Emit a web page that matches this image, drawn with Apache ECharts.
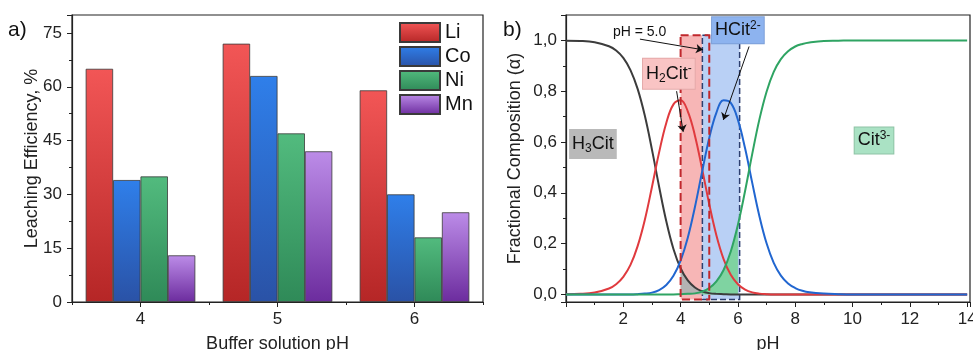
<!DOCTYPE html>
<html><head><meta charset="utf-8">
<script src="https://cdn.jsdelivr.net/npm/echarts@6/dist/echarts.min.js"></script>
<style>html,body{margin:0;padding:0;background:#fff}#c{width:973px;height:350px}</style>
</head><body><div id="c"></div>
<script>
// ---- panel a) data ----
const bufferPH = ['4', '5', '6'];
const li = [65, 72, 59];
const co = [34, 63, 30];
const ni = [35, 47, 18];
const mn = [13, 42, 25];
const leachTicks = [0, 15, 30, 45, 60, 75];

// ---- panel b) data (read from the speciation curves) ----
const pH    = [0, 0.5, 1, 1.5, 1.75, 2, 2.25, 2.5, 2.75, 3, 3.25, 3.5, 3.75, 4, 4.25, 4.5, 4.75, 5, 5.25, 5.5, 5.75, 6, 6.25, 6.5, 6.75, 7, 7.25, 7.5, 7.75, 8, 8.25, 8.5, 9, 9.5, 10, 11, 12, 13, 14];
const h3cit = [0.999, 0.998, 0.993, 0.977, 0.960, 0.931, 0.883, 0.809, 0.704, 0.570, 0.424, 0.288, 0.179, 0.103, 0.055, 0.027, 0.012, 0.005, 0.002, 0.001, 0, 0, 0, 0, 0, 0, 0, 0, 0, 0, 0, 0, 0, 0, 0, 0, 0, 0, 0];
const h2cit = [0.001, 0.002, 0.007, 0.023, 0.040, 0.069, 0.116, 0.190, 0.293, 0.423, 0.559, 0.675, 0.748, 0.764, 0.721, 0.625, 0.494, 0.355, 0.232, 0.139, 0.077, 0.040, 0.019, 0.008, 0.003, 0.001, 0, 0, 0, 0, 0, 0, 0, 0, 0, 0, 0, 0, 0];
const hcit  = [0, 0, 0, 0, 0, 0, 0, 0.001, 0.003, 0.007, 0.017, 0.037, 0.073, 0.133, 0.223, 0.344, 0.483, 0.616, 0.716, 0.764, 0.754, 0.687, 0.575, 0.439, 0.308, 0.201, 0.124, 0.074, 0.043, 0.025, 0.014, 0.008, 0.003, 0.001, 0, 0, 0, 0, 0];
const cit   = [0, 0, 0, 0, 0, 0, 0, 0, 0, 0, 0, 0, 0, 0.001, 0.002, 0.004, 0.011, 0.025, 0.051, 0.096, 0.169, 0.274, 0.407, 0.553, 0.689, 0.798, 0.876, 0.926, 0.957, 0.976, 0.986, 0.992, 0.998, 0.999, 1, 1, 1, 1, 1];
const pHTicks = [2, 4, 6, 8, 10, 12, 14];
const fracTicks = [0, 0.2, 0.4, 0.6, 0.8, 1.0];
const fracTickLabels = ['0,0', '0,2', '0,4', '0,6', '0,8', '1,0'];

const FONT = "'Liberation Sans', Arial, Helvetica, sans-serif";
const AX = '#222';

function grad(top, bottom) {
  return { type: 'linear', x: 0, y: 0, x2: 0, y2: 1, colorStops: [{ offset: 0, color: top }, { offset: 1, color: bottom }] };
}
function xy(ys) { return pH.map((x, i) => [x, ys[i]]); }
function range(ys, lo, hi) { return xy(ys).filter(p => p[0] >= lo - 1e-9 && p[0] <= hi + 1e-9); }

const rich = {
  m: { fontSize: 18, lineHeight: 22, color: '#111', fontFamily: FONT },
  s: { fontSize: 12, lineHeight: 12, verticalAlign: 'bottom', color: '#111', fontFamily: FONT },
  u: { fontSize: 12, lineHeight: 12, verticalAlign: 'top', color: '#111', fontFamily: FONT }
};

function bar(name, vals, top, bottom) {
  return {
    type: 'bar', name: name, data: vals, xAxisIndex: 0, yAxisIndex: 0,
    barGap: '0%', barCategoryGap: '20%',
    itemStyle: { color: grad(top, bottom), borderColor: '#3a3a3a', borderWidth: 0.8 }
  };
}

const chart = echarts.init(document.getElementById('c'), null, { renderer: 'canvas' });
chart.setOption({
  animation: false,
  textStyle: { fontFamily: FONT },
  title: [
    { text: 'a)', left: 8, top: 20, padding: 0, textStyle: { fontSize: 21, fontWeight: 'normal', color: '#111', fontFamily: FONT } },
    { text: 'b)', left: 503, top: 20, padding: 0, textStyle: { fontSize: 21, fontWeight: 'normal', color: '#111', fontFamily: FONT } }
  ],
  legend: {
    data: ['Li', 'Co', 'Ni', 'Mn'], orient: 'vertical', left: 399, top: 22, padding: 0,
    itemWidth: 40, itemHeight: 19, itemGap: 3, icon: 'rect', selectedMode: false,
    textStyle: { fontSize: 20, color: '#111', fontFamily: FONT }
  },
  grid: [
    { left: 72, right: 490, top: 15, bottom: 48, outerBoundsMode: 'none', containLabel: false, show: true, borderColor: AX, borderWidth: 1.2, backgroundColor: 'rgba(0,0,0,0)' },
    { left: 566, right: 3, top: 15, bottom: 48, outerBoundsMode: 'none', containLabel: false, show: true, borderColor: AX, borderWidth: 1.2, backgroundColor: 'rgba(0,0,0,0)' }
  ],
  xAxis: [
    {
      type: 'category', gridIndex: 0, data: bufferPH, position: 'bottom',
      axisLine: { show: true, onZero: false, lineStyle: { color: AX, width: 1.2 } },
      axisTick: { show: true, alignWithLabel: true, length: 5, lineStyle: { color: AX } },
      axisLabel: { fontSize: 17, color: AX, margin: 9 },
      splitLine: { show: false },
      name: 'Buffer solution pH', nameLocation: 'middle', nameGap: 33, nameMoveOverlap: false,
      nameTextStyle: { fontSize: 18, color: AX }
    },
    {
      type: 'category', gridIndex: 0, data: bufferPH, position: 'bottom',
      axisLine: { show: false, onZero: false },
      axisTick: { show: true, alignWithLabel: false, length: 3, lineStyle: { color: AX } },
      axisLabel: { show: false }, splitLine: { show: false }
    },
    {
      type: 'value', gridIndex: 1, min: 0, max: 14.1, interval: 2, position: 'bottom',
      axisLine: { show: true, onZero: false, lineStyle: { color: AX, width: 1.2 } },
      axisTick: { show: true, length: 5, lineStyle: { color: AX } },
      minorTick: { show: true, splitNumber: 2, length: 3, lineStyle: { color: AX } },
      splitLine: { show: false },
      axisLabel: { fontSize: 17, color: AX, margin: 9, formatter: v => pHTicks.find(t => Math.abs(t - v) < 1e-6) !== undefined ? String(v) : '' },
      name: 'pH', nameLocation: 'middle', nameGap: 33, nameMoveOverlap: false, nameTextStyle: { fontSize: 18, color: AX }
    }
  ],
  yAxis: [
    {
      type: 'value', gridIndex: 0, min: 0, max: 80, interval: 15,
      axisLine: { show: true, onZero: false, lineStyle: { color: AX, width: 1.2 } },
      axisTick: { show: true, length: 5, lineStyle: { color: AX } },
      minorTick: { show: true, splitNumber: 2, length: 3, lineStyle: { color: AX } },
      splitLine: { show: false },
      axisLabel: { fontSize: 17, color: AX, margin: 10, formatter: v => leachTicks.indexOf(v) >= 0 ? String(v) : '' },
      name: 'Leaching Efficiency, %', nameLocation: 'middle', nameGap: 31, nameRotate: 90, nameMoveOverlap: false,
      nameTextStyle: { fontSize: 18, color: AX }
    },
    {
      type: 'value', gridIndex: 1, min: -0.03, max: 1.1,
      axisLine: { show: true, onZero: false, lineStyle: { color: AX, width: 1.2 } },
      axisTick: { show: true, length: 5, lineStyle: { color: AX } },
      minorTick: { show: true, splitNumber: 2, length: 3, lineStyle: { color: AX } },
      splitLine: { show: false },
      axisLabel: {
        fontSize: 17, color: AX, margin: 9,
        formatter: v => { const i = fracTicks.findIndex(t => Math.abs(t - v) < 1e-6); return i >= 0 ? fracTickLabels[i] : ''; }
      },
      name: 'Fractional Composition (α)', nameLocation: 'middle', nameGap: 42, nameRotate: 90, nameMoveOverlap: false,
      nameTextStyle: { fontSize: 18, color: AX }
    }
  ],
  series: [
    bar('Li', li, '#f25656', '#b52626'),
    bar('Co', co, '#2f7fea', '#2a52a6'),
    bar('Ni', ni, '#52bb7e', '#2f8a58'),
    bar('Mn', mn, '#bc8ce8', '#6c2c9e'),
    {
      type: 'line', name: 'fillH3', xAxisIndex: 2, yAxisIndex: 1, data: range(h3cit, 4.0, 4.75),
      smooth: 0.4, showSymbol: false, lineStyle: { width: 0 }, areaStyle: { color: '#b3b3b3', opacity: 1 }, z: 2, silent: true,
      markArea: {
        silent: true, z: 1,
        data: [
          [{ coord: [4.0, 1.02], itemStyle: { color: '#f7b6b6' } }, { coord: [4.76, -0.02] }],
          [{ coord: [4.76, 1.02], itemStyle: { color: '#b9d0f5', borderColor: '#2d3f70', borderWidth: 1.5, borderType: 'dashed' } }, { coord: [6.06, -0.02] }]
        ]
      }
    },
    {
      type: 'line', name: 'fillCit', xAxisIndex: 2, yAxisIndex: 1, data: range(cit, 4.75, 6.0),
      smooth: 0.4, showSymbol: false, lineStyle: { width: 0 }, areaStyle: { color: '#7fd3a1', opacity: 1 }, z: 2, silent: true,
      markArea: {
        silent: true, z: 4,
        data: [
          [{ coord: [4.0, 1.02], itemStyle: { color: 'rgba(0,0,0,0)', borderColor: '#c0282d', borderWidth: 2, borderType: 'dashed' } }, { coord: [5.0, -0.02] }]
        ]
      }
    },
    {
      type: 'line', name: 'H3Cit', xAxisIndex: 2, yAxisIndex: 1, data: xy(h3cit),
      smooth: 0.4, showSymbol: false, lineStyle: { color: '#3c3c3c', width: 2 }, z: 3,
      markLine: {
        silent: true, z: 5, symbol: ['none', 'arrow'], symbolSize: 7,
        label: { show: false }, lineStyle: { color: '#111', width: 1, type: 'solid' },
        data: [
          [{ coord: [2.58, 1.005] }, { coord: [4.78, 0.963] }],
          [{ coord: [3.86, 0.80] }, { coord: [4.09, 0.64] }],
          [{ coord: [6.39, 0.976] }, { coord: [5.49, 0.687] }]
        ]
      }
    },
    {
      type: 'line', name: 'H2Cit', xAxisIndex: 2, yAxisIndex: 1, data: xy(h2cit),
      smooth: 0.4, showSymbol: false, lineStyle: { color: '#e03a3e', width: 2 }, z: 3,
      markPoint: {
        silent: true, z: 6, symbol: 'circle', symbolSize: 1, itemStyle: { color: 'rgba(0,0,0,0)' },
        label: { show: true, position: 'inside', rich: rich },
        data: [
          { coord: [0.94, 0.592], label: { formatter: '{m|H}{s|3}{m|Cit}', backgroundColor: '#b9b9b9', padding: [4, 3] } },
          { coord: [3.59, 0.869], label: { formatter: '{m|H}{s|2}{m|Cit}{u|-}', backgroundColor: '#f9c4c4', borderColor: '#e4a9a9', borderWidth: 1, padding: [4, 3] } },
          { coord: [6.0, 1.04], label: { formatter: '{m|HCit}{u|2-}', backgroundColor: '#8db3ef', borderColor: '#7c9fd8', borderWidth: 1, padding: [2, 3] } },
          { coord: [10.75, 0.606], label: { formatter: '{m|Cit}{u|3-}', backgroundColor: '#aae2c4', borderColor: '#8fc3a6', borderWidth: 1, padding: [2, 3] } },
          { coord: [2.57, 1.033], label: { formatter: 'pH = 5.0', fontSize: 14, color: '#111', fontFamily: FONT } }
        ]
      }
    },
    {
      type: 'line', name: 'HCit', xAxisIndex: 2, yAxisIndex: 1, data: xy(hcit),
      smooth: 0.4, showSymbol: false, lineStyle: { color: '#2166d0', width: 2 }, z: 3
    },
    {
      type: 'line', name: 'Cit', xAxisIndex: 2, yAxisIndex: 1, data: xy(cit),
      smooth: 0.4, showSymbol: false, lineStyle: { color: '#2fa463', width: 2 }, z: 3
    }
  ]
});
</script>
</body></html>
